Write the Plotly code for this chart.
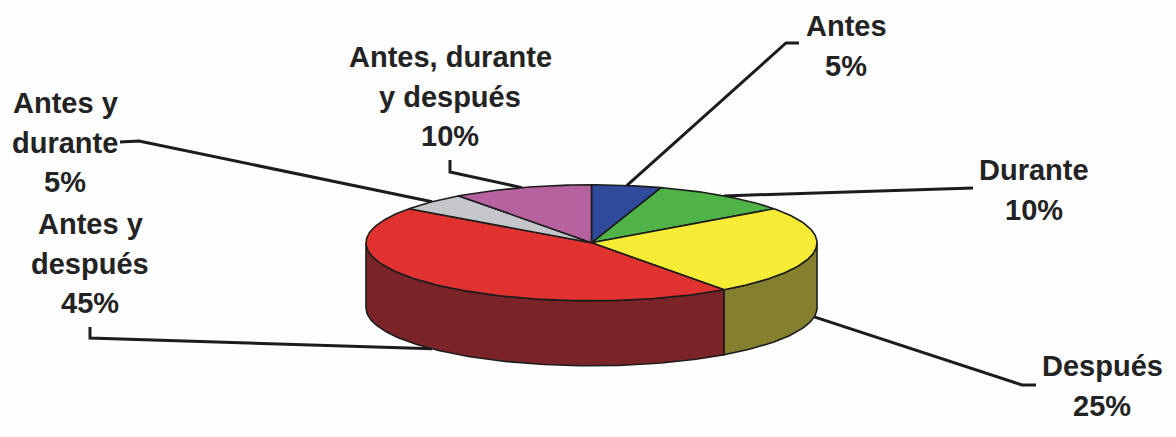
import math
import plotly.graph_objects as go

# Survey shares, clockwise from twelve o'clock
categories = ["Antes", "Durante", "Después", "Antes y después", "Antes y durante", "Antes, durante y después"]
shares = [5, 10, 25, 45, 5, 10]

# Top-face and wall colours per slice
top_colors = ["#2F4A9B", "#4FB348", "#F6EC36", "#E0322E", "#C4C6C9", "#B5629F"]
wall_colors = ["#1E2F63", "#2F6F2C", "#85802E", "#7A2427", "#7C7D80", "#713D63"]

# Wrapped label lines for each category
label_lines = [
    ["Antes"],
    ["Durante"],
    ["Después"],
    ["Antes y", "después"],
    ["Antes y", "durante"],
    ["Antes, durante", "y después"],
]

# Horizontal centre and first row of each label block
label_x = [846, 1034, 1102, 90, 65, 450]
label_y = [26, 170, 366, 224, 103, 57]
LINE_STEP = 39.5

# Leader paths: elbow points from the label towards the pie edge
leader_paths = [
    [(799, 43), (786, 43)],
    [(973, 188)],
    [(1036, 385), (1022, 385)],
    [(90, 327), (90, 338)],
    [(120, 142), (139, 141)],
    [(450, 160), (450, 172)],
]

# Pie projection in pixel units
CX, CY = 591.5, 242.8
RX, RY = 225.5, 58
DEPTH = 65
INK = "#1C1C1C"


def rim(angle, drop=0.0):
    """Project a clockwise angle (degrees from twelve o'clock) onto the rim."""
    a = math.radians(angle)
    return CX + RX * math.sin(a), CY - RY * math.cos(a) + drop


def arc(start, end, drop=0.0):
    steps = max(2, int(abs(end - start)))
    return [rim(start + (end - start) * i / steps, drop) for i in range(steps + 1)]


total = sum(shares)
edges = [0.0]
for s in shares:
    edges.append(edges[-1] + 360 * s / total)

fig = go.Figure()


def polygon(points, fill, width=1.6):
    xs = [p[0] for p in points] + [points[0][0]]
    ys = [p[1] for p in points] + [points[0][1]]
    fig.add_trace(go.Scatter(x=xs, y=ys, mode="lines", fill="toself", fillcolor=fill,
                             line=dict(color=INK, width=width), hoverinfo="skip", showlegend=False))


# Leader lines run underneath the pie and finish on each slice's mid-angle
for i, path in enumerate(leader_paths):
    mid = (edges[i] + edges[i + 1]) / 2
    in_front = 90 < mid < 270
    end = rim(mid, DEPTH if in_front else 0)
    pts = path + [end]
    fig.add_trace(go.Scatter(x=[p[0] for p in pts], y=[p[1] for p in pts], mode="lines",
                             line=dict(color=INK, width=3), hoverinfo="skip", showlegend=False))

# Walls: only the part of each slice on the near half of the rim is visible
for i in range(len(shares)):
    a0, a1 = max(edges[i], 90), min(edges[i + 1], 270)
    if a1 > a0:
        polygon(arc(a0, a1) + arc(a1, a0, DEPTH), wall_colors[i])

# Top face
for i in range(len(shares)):
    polygon([(CX, CY)] + arc(edges[i], edges[i + 1]), top_colors[i])

annotations = []
for i, lines in enumerate(label_lines):
    rows = lines + [f"{shares[i]}%"]
    for r, text in enumerate(rows):
        annotations.append(dict(x=label_x[i], y=label_y[i] + r * LINE_STEP, text=f"<b>{text}</b>",
                                xref="x", yref="y", showarrow=False,
                                xanchor="center", yanchor="middle",
                                font=dict(family="Liberation Sans", size=29, color="#232323")))

fig.update_layout(
    width=1176, height=437, autosize=False,
    margin=dict(l=0, r=0, t=0, b=0),
    paper_bgcolor="#FEFEFE", plot_bgcolor="#FEFEFE",
    showlegend=False,
    annotations=annotations,
    xaxis=dict(range=[0, 1176], visible=False, fixedrange=True),
    yaxis=dict(range=[437, 0], visible=False, fixedrange=True),
)

fig.write_html("out.html", config=dict(displayModeBar=False))
